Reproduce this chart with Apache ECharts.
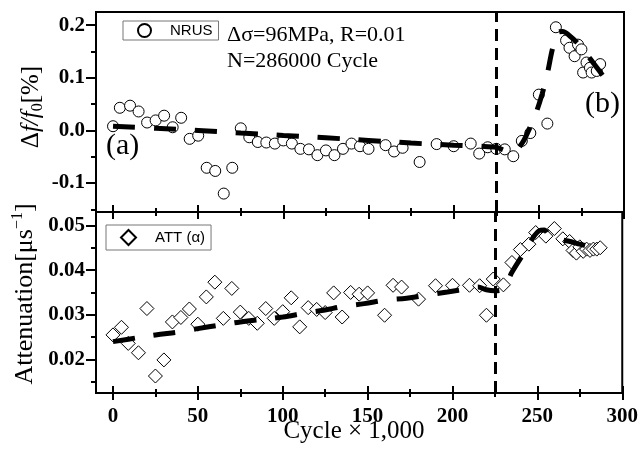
<!DOCTYPE html>
<html><head><meta charset="utf-8">
<script src="https://cdn.jsdelivr.net/npm/echarts@6/dist/echarts.min.js"></script>
<style>html,body{margin:0;padding:0;background:#fff}#c{width:641px;height:453px}</style>
</head><body><div id="c"></div>
<script>
// ---- data ----
const xTickMajor = [0, 50, 100, 150, 200, 250, 300];
const xTickMinor = [25, 75, 125, 175, 225, 275];
const topTickMajor = [-0.1, 0, 0.1, 0.2];
const topTickMinor = [-0.15, -0.05, 0.05, 0.15];
const botTickMajor = [0.02, 0.03, 0.04, 0.05];
const botTickMinor = [0.015, 0.025, 0.035, 0.045];

const nrusCycle = [0,4,10,15,20,25,30,35,40,45,50,55,60,65,70,75,80,85,90,95,100,105,110,115,120,125,130,135,140,145,150,160,165,170,180,190,200,210,215,220,225,230,235,240,245,250,255,260,266,268,271,273,275,276,278,280,281,284,286];
const nrusValue = [0.008,0.043,0.047,0.036,0.015,0.019,0.028,0.006,0.024,-0.016,-0.010,-0.071,-0.077,-0.120,-0.071,0.004,-0.013,-0.022,-0.023,-0.025,-0.019,-0.025,-0.035,-0.036,-0.047,-0.038,-0.047,-0.035,-0.025,-0.030,-0.035,-0.028,-0.040,-0.033,-0.060,-0.026,-0.030,-0.025,-0.044,-0.032,-0.035,-0.036,-0.049,-0.020,-0.005,0.068,0.013,0.196,0.171,0.157,0.141,0.163,0.154,0.110,0.129,0.119,0.110,0.113,0.126];

const nrusFitCycle = [0,25,50,75,100,125,150,175,200,215,225,230,235,240,244,248,252,255,258,261,264,268,273,278,283,289];
const nrusFitValue = [0.008,0.004,0.000,-0.005,-0.0095,-0.014,-0.019,-0.024,-0.028,-0.030,-0.032,-0.038,-0.041,-0.025,0.000,0.030,0.070,0.108,0.155,0.186,0.188,0.180,0.165,0.145,0.124,0.098];

const attCycle = [0,5,9,15,20,25,30,35,40,45,50,55,60,65,70,75,80,85,90,95,100,105,110,115,120,125,130,135,140,145,150,160,165,170,180,190,200,210,216,220,224,230,235,240,245,249,255,260,265,269,271,273,275,277,279,281,283,285,287];
const attValue = [0.0255,0.0272,0.0236,0.0215,0.0314,0.0163,0.0199,0.0284,0.0294,0.0313,0.0279,0.0340,0.0373,0.0292,0.0359,0.0306,0.0292,0.0281,0.0314,0.0292,0.0307,0.0338,0.0273,0.0316,0.0312,0.0305,0.0349,0.0295,0.0350,0.0346,0.0349,0.0299,0.0366,0.0362,0.0335,0.0365,0.0366,0.0366,0.0365,0.0299,0.0380,0.0367,0.0417,0.0446,0.0458,0.0484,0.0476,0.0493,0.0470,0.0464,0.0444,0.0438,0.0452,0.0442,0.0447,0.0444,0.0447,0.0447,0.0450];

const attFitCycle = [0,15,25,40,50,63,75,100,112,124,136,148,161,173,185,197,210,215,220,225,230,235,241,247,251,254,257,262,268,275,282];
const attFitValue = [0.0240,0.0249,0.0255,0.0262,0.0269,0.0277,0.0284,0.0295,0.0303,0.0310,0.0319,0.0325,0.0333,0.0337,0.0344,0.0351,0.0359,0.0362,0.0356,0.0354,0.0358,0.0395,0.0432,0.0470,0.0488,0.0490,0.0478,0.0470,0.0465,0.0458,0.0451];

const transitionCycle = 225;

// ---- styling ----
const SERIF = 'Liberation Serif';
const SANS = 'Liberation Sans';
const TICK_COLOR = '#000';

function pairs(xs, ys) { return xs.map((x, i) => [x, ys[i]]); }

const tickLabelStyle = { color: '#000', fontFamily: SERIF, fontWeight: 'bold', fontSize: 21 };

function xAxesFor(grid, withLabels) {
  const mk = (vals, inside, len, lab) => ({
    type: 'value', gridIndex: grid, min: -10, max: 300, position: 'bottom',
    splitLine: { show: false },
    axisLine: { show: false, onZero: false },
    axisTick: { show: true, inside: inside, length: len, customValues: vals, lineStyle: { color: TICK_COLOR, width: 2 } },
    axisLabel: lab ? Object.assign({ show: true, customValues: vals, margin: 13, formatter: v => String(v) }, tickLabelStyle)
                   : { show: false, customValues: vals }
  });
  return [mk(xTickMajor, true, 7, withLabels), mk(xTickMajor, false, 7, false), mk(xTickMinor, true, 4, false), mk(xTickMinor, false, 4, false)];
}

function yAxesFor(grid, min, max, major, minor, digits) {
  return [
    { type: 'value', gridIndex: grid, min: min, max: max, position: 'left',
      splitLine: { show: false }, axisLine: { show: false, onZero: false },
      axisTick: { show: true, inside: false, length: 10, customValues: major, lineStyle: { color: TICK_COLOR, width: 2 } },
      axisLabel: Object.assign({ show: true, customValues: major, margin: 11, formatter: v => v.toFixed(digits) }, tickLabelStyle) },
    { type: 'value', gridIndex: grid, min: min, max: max, position: 'left',
      splitLine: { show: false }, axisLine: { show: false, onZero: false },
      axisTick: { show: true, inside: false, length: 5, customValues: minor, lineStyle: { color: TICK_COLOR, width: 2 } },
      axisLabel: { show: false, customValues: minor } }
  ];
}

const fitLine = { color: '#000', width: 5, type: [22, 19], cap: 'butt' };
const vMark = {
  silent: true, symbol: ['none', 'none'], label: { show: false },
  lineStyle: { color: '#000', width: 3, type: [12, 7] },
  data: [{ xAxis: transitionCycle }]
};

const option = {
  animation: false,
  backgroundColor: '#fff',
  textStyle: { fontFamily: SERIF },
  grid: [
    { left: 96, top: 12, width: 528, height: 200, show: true, borderColor: '#000', borderWidth: 2, backgroundColor: 'transparent' },
    { left: 96, top: 212, width: 528, height: 181, show: true, borderColor: '#000', borderWidth: 2, backgroundColor: 'transparent' }
  ],
  xAxis: [].concat(xAxesFor(0, false), xAxesFor(1, true)),
  yAxis: [].concat(yAxesFor(0, -0.155, 0.225, topTickMajor, topTickMinor, 1), yAxesFor(1, 0.0125, 0.053, botTickMajor, botTickMinor, 2)),
  legend: [
    { data: ['NRUS'], left: 123, top: 21, padding: [2, 6, 2, 14], borderColor: '#777', borderWidth: 1,
      itemWidth: 13, itemHeight: 13, selectedMode: false,
      textStyle: { fontFamily: SANS, fontSize: 15, color: '#000', padding: [0, 0, 0, 14] } },
    { data: ['ATT (α)'], left: 106, top: 225, padding: [4, 6, 4, 14], borderColor: '#777', borderWidth: 1,
      itemWidth: 15, itemHeight: 15, selectedMode: false,
      textStyle: { fontFamily: SANS, fontSize: 15, color: '#000', padding: [0, 0, 0, 14] } }
  ],
  series: [
    { type: 'scatter', name: 'NRUS', xAxisIndex: 0, yAxisIndex: 0, data: pairs(nrusCycle, nrusValue),
      symbol: 'circle', symbolSize: 11, itemStyle: { color: '#fff', borderColor: '#000', borderWidth: 1, opacity: 1 }, z: 2 },
    { type: 'line', name: 'NRUS fit', xAxisIndex: 0, yAxisIndex: 0, data: pairs(nrusFitCycle, nrusFitValue),
      smooth: 0.35, symbol: 'none', showSymbol: false, lineStyle: fitLine, z: 3, markLine: vMark },
    { type: 'scatter', name: 'ATT (α)', xAxisIndex: 4, yAxisIndex: 2, data: pairs(attCycle, attValue),
      symbol: 'diamond', symbolSize: 14, itemStyle: { color: '#fff', borderColor: '#000', borderWidth: 1, opacity: 1 }, z: 2 },
    { type: 'line', name: 'ATT fit', xAxisIndex: 4, yAxisIndex: 2, data: pairs(attFitCycle, attFitValue),
      smooth: 0.35, symbol: 'none', showSymbol: false, lineStyle: fitLine, z: 3, markLine: vMark }
  ],
  graphic: [
    { type: 'text', x: 227, y: 35, z: 10, style: { text: 'Δσ=96MPa, R=0.01', font: '22px "Liberation Serif"', fill: '#000', align: 'left', verticalAlign: 'middle' } },
    { type: 'text', x: 227, y: 61, z: 10, style: { text: 'N=286000 Cycle', font: '22px "Liberation Serif"', fill: '#000', align: 'left', verticalAlign: 'middle' } },
    { type: 'text', x: 106, y: 146, z: 10, style: { text: '(a)', font: '30px "Liberation Serif"', fill: '#000', align: 'left', verticalAlign: 'middle' } },
    { type: 'text', x: 585, y: 104, z: 10, style: { text: '(b)', font: '30px "Liberation Serif"', fill: '#000', align: 'left', verticalAlign: 'middle' } },
    { type: 'text', x: 354, y: 431, z: 10, style: { text: 'Cycle × 1,000', font: '25px "Liberation Serif"', fill: '#000', align: 'center', verticalAlign: 'middle' } },
    { type: 'text', x: 31, y: 107, rotation: Math.PI / 2, z: 10,
      style: { text: '{n|Δ}{i|f/f}{s|0}{n|[%]}', align: 'center', verticalAlign: 'middle', fill: '#000',
        rich: { n: { fontFamily: SERIF, fontSize: 25, lineHeight: 30, verticalAlign: 'middle' },
                i: { fontFamily: SERIF, fontSize: 25, fontStyle: 'italic', lineHeight: 30, verticalAlign: 'middle' },
                s: { fontFamily: SERIF, fontSize: 16, lineHeight: 16, verticalAlign: 'bottom' } } } },
    { type: 'text', x: 25, y: 294, rotation: Math.PI / 2, z: 10,
      style: { text: '{n|Attenuation[μs}{p|−1}{n|]}', align: 'center', verticalAlign: 'middle', fill: '#000',
        rich: { n: { fontFamily: SERIF, fontSize: 26, lineHeight: 30, verticalAlign: 'middle' },
                p: { fontFamily: SERIF, fontSize: 16, lineHeight: 16, verticalAlign: 'top' } } } }
  ]
};

const chart = echarts.init(document.getElementById('c'), null, { renderer: 'canvas' });
chart.setOption(option);
</script>
</body></html>
